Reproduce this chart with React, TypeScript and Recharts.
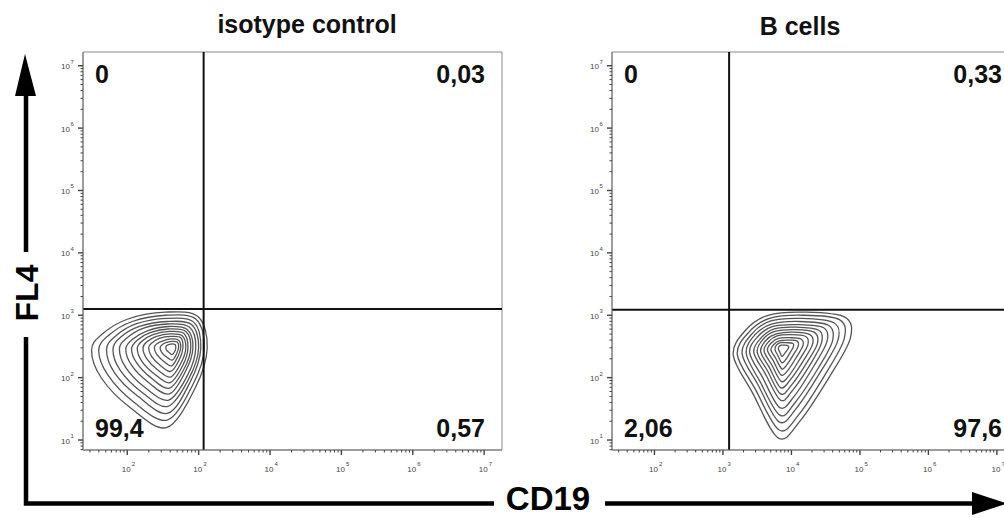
import React from "react";
import { LineChart, Line, XAxis, YAxis, ReferenceLine, ReferenceArea } from "recharts";

// axes are in log10 units (decades)
const xMajor = [2, 3, 4, 5, 6, 7];
const yMajor = [1, 2, 3, 4, 5, 6, 7];
const minorSteps = [2, 3, 4, 5, 6, 7, 8, 9];
const xDomain: [number, number] = [1.38, 7.25];
const yDomain: [number, number] = [0.84, 7.22];

const isotypeGate = { x: 3.07, y: 3.1 };
const isotypeQuadrants = ["0", "0,03", "99,4", "0,57"]; // UL, UR, LL, LR
const bcellGate = { x: 3.09, y: 3.09 };
const bcellQuadrants = ["0", "0,33", "2,06", "97,6"];

// contour rings, outer to inner, [log CD19, log FL4]
const isotypeRings: number[][][] = [
  [[1.50, 2.44], [1.65, 2.70], [2.01, 2.94], [2.53, 3.05], [2.99, 2.98], [3.12, 2.47], [2.95, 1.83], [2.55, 1.20], [2.04, 1.52], [1.64, 1.99]],
  [[1.60, 2.44], [1.74, 2.68], [2.07, 2.90], [2.54, 3.00], [2.96, 2.94], [3.08, 2.47], [2.92, 1.89], [2.56, 1.32], [2.09, 1.61], [1.73, 2.04]],
  [[1.71, 2.45], [1.83, 2.66], [2.12, 2.86], [2.55, 2.95], [2.93, 2.89], [3.03, 2.47], [2.89, 1.95], [2.57, 1.43], [2.15, 1.70], [1.82, 2.08]],
  [[1.80, 2.45], [1.91, 2.65], [2.17, 2.82], [2.56, 2.90], [2.90, 2.85], [3.00, 2.48], [2.87, 2.00], [2.57, 1.54], [2.20, 1.77], [1.90, 2.12]],
  [[1.89, 2.46], [1.99, 2.63], [2.22, 2.79], [2.57, 2.86], [2.87, 2.81], [2.96, 2.48], [2.85, 2.05], [2.58, 1.64], [2.24, 1.85], [1.98, 2.16]],
  [[1.98, 2.46], [2.07, 2.61], [2.28, 2.75], [2.58, 2.82], [2.84, 2.77], [2.92, 2.48], [2.82, 2.11], [2.59, 1.74], [2.29, 1.93], [2.06, 2.20]],
  [[2.06, 2.46], [2.14, 2.60], [2.32, 2.72], [2.58, 2.78], [2.82, 2.74], [2.89, 2.48], [2.80, 2.15], [2.59, 1.83], [2.33, 2.00], [2.13, 2.24]],
  [[2.14, 2.47], [2.20, 2.58], [2.36, 2.69], [2.59, 2.74], [2.79, 2.71], [2.85, 2.48], [2.78, 2.20], [2.60, 1.92], [2.38, 2.06], [2.20, 2.27]],
  [[2.22, 2.47], [2.27, 2.57], [2.41, 2.66], [2.60, 2.70], [2.77, 2.67], [2.82, 2.48], [2.76, 2.25], [2.61, 2.01], [2.42, 2.13], [2.27, 2.31]],
  [[2.30, 2.48], [2.34, 2.55], [2.45, 2.63], [2.61, 2.66], [2.75, 2.64], [2.78, 2.48], [2.73, 2.29], [2.61, 2.10], [2.46, 2.20], [2.34, 2.34]],
  [[2.38, 2.48], [2.41, 2.54], [2.50, 2.59], [2.62, 2.62], [2.72, 2.60], [2.75, 2.49], [2.71, 2.34], [2.62, 2.19], [2.50, 2.27], [2.41, 2.38]],
  [[2.46, 2.48], [2.48, 2.52], [2.54, 2.56], [2.62, 2.58], [2.70, 2.57], [2.72, 2.49], [2.69, 2.38], [2.63, 2.28], [2.54, 2.34], [2.48, 2.41]],
  [[2.54, 2.49], [2.55, 2.51], [2.58, 2.53], [2.63, 2.54], [2.67, 2.53], [2.68, 2.49], [2.67, 2.43], [2.63, 2.37], [2.59, 2.40], [2.55, 2.44]],
];

const bcellRings: number[][][] = [
  [[3.15, 2.36], [3.33, 2.76], [3.66, 3.00], [4.20, 3.05], [4.78, 2.97], [4.86, 2.63], [4.57, 2.04], [4.13, 1.31], [3.81, 1.03], [3.43, 1.76]],
  [[3.21, 2.37], [3.38, 2.73], [3.68, 2.95], [4.17, 3.00], [4.70, 2.93], [4.77, 2.62], [4.51, 2.08], [4.11, 1.41], [3.82, 1.16], [3.47, 1.82]],
  [[3.28, 2.38], [3.43, 2.71], [3.70, 2.91], [4.14, 2.95], [4.62, 2.88], [4.68, 2.60], [4.44, 2.12], [4.08, 1.52], [3.82, 1.29], [3.51, 1.89]],
  [[3.34, 2.39], [3.47, 2.69], [3.72, 2.86], [4.11, 2.90], [4.54, 2.84], [4.60, 2.59], [4.39, 2.15], [4.06, 1.61], [3.83, 1.40], [3.54, 1.94]],
  [[3.39, 2.40], [3.51, 2.66], [3.73, 2.82], [4.09, 2.85], [4.47, 2.80], [4.52, 2.58], [4.33, 2.19], [4.04, 1.70], [3.83, 1.52], [3.58, 2.00]],
  [[3.45, 2.41], [3.56, 2.64], [3.75, 2.78], [4.06, 2.81], [4.40, 2.76], [4.44, 2.56], [4.28, 2.22], [4.02, 1.80], [3.84, 1.64], [3.62, 2.06]],
  [[3.50, 2.41], [3.59, 2.62], [3.76, 2.74], [4.04, 2.77], [4.33, 2.73], [4.38, 2.55], [4.23, 2.25], [4.00, 1.88], [3.84, 1.74], [3.65, 2.11]],
  [[3.55, 2.42], [3.63, 2.60], [3.78, 2.70], [4.02, 2.73], [4.27, 2.69], [4.31, 2.54], [4.18, 2.28], [3.98, 1.96], [3.84, 1.84], [3.68, 2.16]],
  [[3.60, 2.43], [3.67, 2.58], [3.79, 2.67], [3.99, 2.69], [4.21, 2.66], [4.24, 2.53], [4.13, 2.31], [3.97, 2.04], [3.85, 1.94], [3.71, 2.21]],
  [[3.65, 2.44], [3.71, 2.56], [3.81, 2.63], [3.97, 2.64], [4.14, 2.62], [4.17, 2.52], [4.08, 2.34], [3.95, 2.12], [3.85, 2.04], [3.74, 2.26]],
  [[3.70, 2.45], [3.75, 2.54], [3.82, 2.59], [3.95, 2.60], [4.08, 2.59], [4.10, 2.51], [4.03, 2.37], [3.93, 2.20], [3.86, 2.14], [3.77, 2.31]],
  [[3.76, 2.45], [3.78, 2.52], [3.84, 2.56], [3.92, 2.56], [4.02, 2.55], [4.03, 2.50], [3.98, 2.40], [3.91, 2.28], [3.86, 2.24], [3.80, 2.36]],
  [[3.81, 2.46], [3.82, 2.50], [3.85, 2.52], [3.90, 2.52], [3.95, 2.51], [3.96, 2.48], [3.93, 2.43], [3.89, 2.37], [3.86, 2.34], [3.83, 2.41]],
];

function logTicks(majors: number[], domain: [number, number]) {
  const t: number[] = [];
  for (let n = majors[0] - 1; n <= majors[majors.length - 1]; n++) {
    t.push(n);
    minorSteps.forEach((k) => t.push(n + Math.log10(k)));
  }
  return t.filter((v) => v >= domain[0] && v <= domain[1]);
}

const isMajor = (v: number) => Math.abs(v - Math.round(v)) < 1e-6;

// closed Catmull-Rom curve so the rings pass through their points
function smoothClosed(context: any) {
  let pts: number[][] = [];
  return {
    areaStart() {},
    areaEnd() {},
    lineStart() {
      pts = [];
    },
    point(x: number, y: number) {
      pts.push([x, y]);
    },
    lineEnd() {
      const n = pts.length;
      if (!n) return;
      context.moveTo(pts[0][0], pts[0][1]);
      for (let i = 0; i < n; i++) {
        const p0 = pts[(i - 1 + n) % n];
        const p1 = pts[i];
        const p2 = pts[(i + 1) % n];
        const p3 = pts[(i + 2) % n];
        context.bezierCurveTo(
          p1[0] + (p2[0] - p0[0]) / 6,
          p1[1] + (p2[1] - p0[1]) / 6,
          p2[0] - (p3[0] - p1[0]) / 6,
          p2[1] - (p3[1] - p1[1]) / 6,
          p2[0],
          p2[1]
        );
      }
      context.closePath();
    },
  };
}

function XTick(props: any) {
  const { x, y, payload } = props;
  const v = payload.value;
  const major = isMajor(v);
  return (
    <g>
      <line x1={x} x2={x} y1={y} y2={y + (major ? 5 : 2.5)} stroke="#444" strokeWidth={major ? 1.4 : 1} />
      {major && (
        <g fill="#444">
          <text x={x + 3.5} y={y + 22} textAnchor="end" fontSize={8}>10</text>
          <text x={x + 4.5} y={y + 16} fontSize={6}>{Math.round(v)}</text>
        </g>
      )}
    </g>
  );
}

function YTick(props: any) {
  const { x, y, payload } = props;
  const v = payload.value;
  const major = isMajor(v);
  return (
    <g>
      <line x1={x} x2={x - (major ? 5 : 2.5)} y1={y} y2={y} stroke="#444" strokeWidth={major ? 1.4 : 1} />
      {major && (
        <g fill="#444">
          <text x={x - 13} y={y + 3.5} textAnchor="end" fontSize={8}>10</text>
          <text x={x - 12.5} y={y - 2} fontSize={6}>{Math.round(v)}</text>
        </g>
      )}
    </g>
  );
}

const quadLabel = (value: string, position: string, dx: number) => ({
  value,
  position,
  offset: 13,
  dx,
  fill: "#111",
  fontSize: 25,
  fontWeight: 700,
});

function Panel({ rings, gate, quadrants, left, width, margin, rightShift }: any) {
  const xTicks = logTicks(xMajor, xDomain);
  const yTicks = logTicks(yMajor, yDomain);
  return (
    <div style={{ position: "absolute", left, top: 0 }}>
      <LineChart width={width} height={518} margin={margin}>
        <XAxis
          type="number"
          dataKey="x"
          domain={xDomain}
          allowDataOverflow
          ticks={xTicks}
          interval={0}
          tick={<XTick />}
          tickSize={0}
          tickMargin={0}
          tickLine={false}
          axisLine={{ stroke: "#777" }}
          height={30}
        />
        <YAxis
          type="number"
          dataKey="y"
          domain={yDomain}
          allowDataOverflow
          ticks={yTicks}
          interval={0}
          tick={<YTick />}
          tickSize={0}
          tickMargin={0}
          tickLine={false}
          axisLine={{ stroke: "#777" }}
          width={40}
        />
        <ReferenceArea x1={xDomain[0]} x2={gate.x} y1={gate.y} y2={yDomain[1]} fill="none" stroke="none"
          label={quadLabel(quadrants[0], "insideTopLeft", -1)} />
        <ReferenceArea x1={gate.x} x2={xDomain[1]} y1={gate.y} y2={yDomain[1]} fill="none" stroke="none"
          label={quadLabel(quadrants[1], "insideTopRight", rightShift)} />
        <ReferenceArea x1={xDomain[0]} x2={gate.x} y1={yDomain[0]} y2={gate.y} fill="none" stroke="none"
          label={quadLabel(quadrants[2], "insideBottomLeft", -1)} />
        <ReferenceArea x1={gate.x} x2={xDomain[1]} y1={yDomain[0]} y2={gate.y} fill="none" stroke="none"
          label={quadLabel(quadrants[3], "insideBottomRight", rightShift)} />
        {rings.map((r: number[][], i: number) => (
          <Line
            key={i}
            data={r.map(([x, y]) => ({ x, y }))}
            dataKey="y"
            type={smoothClosed as any}
            stroke="#555"
            strokeWidth={1.3}
            dot={false}
            activeDot={false}
            isAnimationActive={false}
          />
        ))}
        <ReferenceLine x={gate.x} stroke="#111" strokeWidth={2} />
        <ReferenceLine y={gate.y} stroke="#111" strokeWidth={2} />
        <ReferenceArea x1={xDomain[0]} x2={xDomain[1]} y1={yDomain[0]} y2={yDomain[1]} fill="none" stroke="#888" strokeWidth={1} />
      </LineChart>
    </div>
  );
}

export default function App() {
  return (
    <div
      style={{
        position: "absolute",
        left: 0,
        top: 0,
        width: 1004,
        height: 518,
        overflow: "hidden",
        background: "#fff",
        fontFamily: "'Liberation Sans', Arial, sans-serif",
      }}
    >
      <Panel rings={isotypeRings} gate={isotypeGate} quadrants={isotypeQuadrants} left={0} width={520}
        margin={{ top: 52, right: 18, bottom: 38, left: 43 }} rightShift={-4} />
      <Panel rings={bcellRings} gate={bcellGate} quadrants={bcellQuadrants} left={560} width={470}
        margin={{ top: 52, right: 16, bottom: 38, left: 12 }} rightShift={1} />

      {/* titles, axis names and arrows */}
      <svg width={1004} height={518} style={{ position: "absolute", left: 0, top: 0, pointerEvents: "none" }}>
        <text x={307} y={33} textAnchor="middle" fontSize={25} fontWeight={700} fill="#111">isotype control</text>
        <text x={800} y={35} textAnchor="middle" fontSize={25} fontWeight={700} fill="#111">B cells</text>

        <polygon points="25,54 15,96 36,96" fill="#000" />
        <line x1={26} x2={26} y1={94} y2={252} stroke="#000" strokeWidth={4.5} />
        <text x={26} y={304.5} transform="rotate(-90 26 293)" textAnchor="middle" fontSize={32} fontWeight={700} fill="#000">FL4</text>
        <path d="M26 337 V503.5 H494" stroke="#000" strokeWidth={4.5} fill="none" />

        <text x={548} y={510} textAnchor="middle" fontSize={33} fontWeight={700} fill="#000">CD19</text>
        <line x1={605} x2={975} y1={503.5} y2={503.5} stroke="#000" strokeWidth={4.5} />
        <polygon points="972,492 1007,503.5 972,515" fill="#000" />
      </svg>
    </div>
  );
}
